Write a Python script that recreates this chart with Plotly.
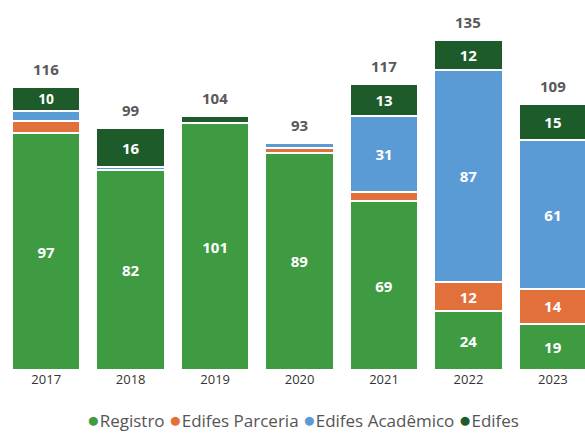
import plotly.graph_objects as go

years = ["2017", "2018", "2019", "2020", "2021", "2022", "2023"]
registro = [97, 82, 101, 89, 69, 24, 19]
parceria = [5, 0, 0, 2, 4, 12, 14]
academico = [4, 1, 0, 2, 31, 87, 61]
edifes = [10, 16, 3, 0, 13, 12, 15]
totals = [116, 99, 104, 93, 117, 135, 109]

series = [
    ("Registro", registro, "#3f9b42"),
    ("Edifes Parceria", parceria, "#e2703a"),
    ("Edifes Acadêmico", academico, "#5b9bd5"),
    ("Edifes", edifes, "#1e5b2b"),
]

FONT = "Open Sans"
fig = go.Figure()
for name, vals, color in series:
    fig.add_trace(go.Bar(
        x=years, y=vals, name=name, marker=dict(color=color, line=dict(color="white", width=2)),
        text=[str(v) if v >= 10 else "" for v in vals],
        textposition="inside", insidetextanchor="middle", textangle=0,
        textfont=dict(color="white", size=15, family=FONT, weight="bold"),
        showlegend=False, hoverinfo="skip",
    ))

for i, t in enumerate(totals):
    fig.add_annotation(x=i, y=t, text=f"<b>{t}</b>", showarrow=False, yanchor="bottom",
                       yshift=6, font=dict(color="#595959", size=15, family=FONT))

legend_text = "".join(
    f'<span style="color:{c}; font-size:21px">●</span>{n} ' for n, _, c in series
).strip()
fig.add_annotation(xref="paper", yref="paper", x=0.515, y=-0.135, xanchor="center", yanchor="middle",
                   text=legend_text, showarrow=False,
                   font=dict(size=17, color="#555555", family=FONT))

fig.update_layout(
    barmode="stack", bargap=0.19, width=585, height=433,
    margin=dict(l=4, r=0, t=5, b=63),
    paper_bgcolor="white", plot_bgcolor="white",
    font=dict(family=FONT, color="#404040"),
    showlegend=False,
    xaxis=dict(type="category", range=[-0.5, 6.38], showgrid=False, showline=False, ticks="",
               tickfont=dict(size=13, color="#333333", family=FONT)),
    yaxis=dict(range=[0, 149.4], visible=False),
)
fig.write_html("out.html", config={"displayModeBar": False},
               post_script="document.body.style.margin='0';")
